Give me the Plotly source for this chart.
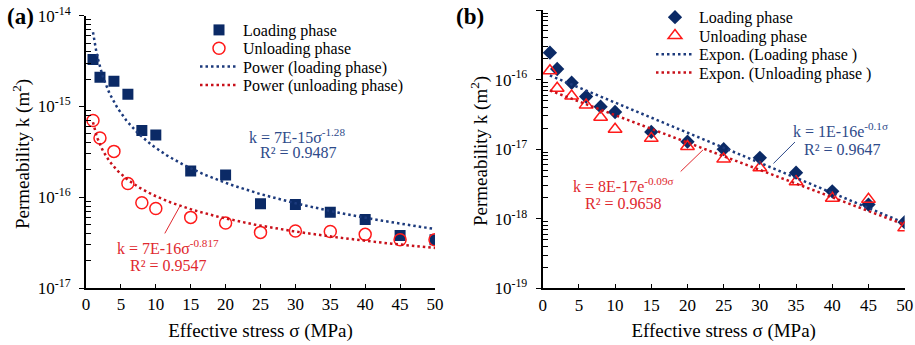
import numpy as np
import plotly.graph_objects as go

# ---------------- data ----------------
stress = [1, 2, 4, 6, 8, 10, 15, 20, 25, 30, 35, 40, 45, 50]

# panel (a)
a_loading = [3.3e-15, 2.1e-15, 1.9e-15, 1.36e-15, 5.45e-16, 4.85e-16, 1.95e-16,
             1.76e-16, 8.5e-17, 8.3e-17, 6.85e-17, 5.7e-17, 3.8e-17, 3.4e-17]
a_unloading = [7.0e-16, 4.5e-16, 3.2e-16, 1.42e-16, 8.7e-17, 7.5e-17, 6.0e-17,
               5.2e-17, 4.1e-17, 4.25e-17, 4.2e-17, 3.9e-17, 3.4e-17, 3.4e-17]

# panel (b)
b_loading = [2.44e-16, 1.42e-16, 9.0e-17, 5.7e-17, 4.08e-17, 3.42e-17, 1.77e-17,
             1.28e-17, 1.0e-17, 7.5e-18, 4.6e-18, 2.48e-18, 1.6e-18, 8.9e-19]
b_unloading = [1.34e-16, 7.5e-17, 5.8e-17, 4.3e-17, 2.87e-17, 1.93e-17, 1.43e-17,
               1.09e-17, 7.2e-18, 5.4e-18, 3.4e-18, 1.97e-18, 1.9e-18, 7.4e-19]

x_ticks = [0, 5, 10, 15, 20, 25, 30, 35, 40, 45, 50]
a_major = [1e-17, 1e-16, 1e-15, 1e-14]
a_major_text = ["10<sup>-17</sup>", "10<sup>-16</sup>", "10<sup>-15</sup>", "10<sup>-14</sup>"]
b_major = [1e-19, 1e-18, 1e-17, 1e-16, 1e-15]
b_major_text = ["10<sup>-19</sup>", "10<sup>-18</sup>", "10<sup>-17</sup>",
                "10<sup>-16</sup>", "10<sup>-15</sup>"]

a_names = ["Loading phase", "Unloading phase", "Power (loading phase)",
           "Power (unloading phase)"]
b_names = ["Loading phase", "Unloading phase", "Expon. (Loading phase )",
           "Expon. (Unloading phase )"]

x_title = "Effective stress σ (MPa)"
y_title = "Permeability k (m<sup>2</sup>)"

eq_a_load = ["k = 7E-15σ<sup>-1.28</sup>", "R² = 0.9487"]
eq_a_unload = ["k = 7E-16σ<sup>-0.817</sup>", "R² = 0.9547"]
eq_b_load = ["k = 1E-16e<sup>-0.1σ</sup>", "R² = 0.9647"]
eq_b_unload = ["k = 8E-17e<sup>-0.09σ</sup>", "R² = 0.9658"]

# ---------------- styles ----------------
NAVY = "#0b2a66"
BLUE_LINE = "#1c3a7c"
RED = "#ff1a1a"
RED_LINE = "#c8101a"
BLUE_TXT = "#2e4a8a"
RED_TXT = "#e0282e"
FONT = "Liberation Serif, Times New Roman, DejaVu Serif, serif"
DOT = "2.5px,3px"

xs = np.array(stress, dtype=float)
xfine = np.linspace(1, 50, 300)


def power_fit(y):
    b, a = np.polyfit(np.log(xs), np.log(np.array(y)), 1)
    return np.exp(a) * xfine ** b


def expon_fit(y):
    b, a = np.polyfit(xs, np.log(np.array(y)), 1)
    return np.exp(a) * np.exp(b * xfine)


def minor_vals(lo, hi):
    out = []
    for e in range(lo, hi):
        for m in range(2, 10):
            out.append(m * 10.0 ** e)
    return out


fig = go.Figure()

# panel (a)
fig.add_trace(go.Scatter(x=stress, y=a_loading, mode="markers", name=a_names[0],
                         marker=dict(symbol="square", size=11, color=NAVY),
                         xaxis="x", yaxis="y", legend="legend"))
fig.add_trace(go.Scatter(x=stress, y=a_unloading, mode="markers", name=a_names[1],
                         marker=dict(symbol="circle-open", size=12, color=RED,
                                     line=dict(width=1.5, color=RED)),
                         xaxis="x", yaxis="y", legend="legend2"))
fig.add_trace(go.Scatter(x=xfine, y=power_fit(a_loading), mode="lines",
                         name=a_names[2],
                         line=dict(color=BLUE_LINE, width=2.5, dash=DOT),
                         xaxis="x", yaxis="y", legend="legend3"))
fig.add_trace(go.Scatter(x=xfine, y=power_fit(a_unloading), mode="lines",
                         name=a_names[3],
                         line=dict(color=RED_LINE, width=2.5, dash=DOT),
                         xaxis="x", yaxis="y", legend="legend4"))

# panel (b)
fig.add_trace(go.Scatter(x=stress, y=b_loading, mode="markers", name=b_names[0],
                         marker=dict(symbol="diamond", size=11, color=NAVY),
                         xaxis="x2", yaxis="y2", legend="legend5"))
fig.add_trace(go.Scatter(x=stress, y=b_unloading, mode="markers", name=b_names[1],
                         marker=dict(symbol="triangle-up-open", size=12, color=RED,
                                     line=dict(width=1.5, color=RED)),
                         xaxis="x2", yaxis="y2", legend="legend6"))
fig.add_trace(go.Scatter(x=xfine, y=expon_fit(b_loading), mode="lines",
                         name=b_names[2],
                         line=dict(color=BLUE_LINE, width=2.5, dash=DOT),
                         xaxis="x2", yaxis="y2", legend="legend7"))
fig.add_trace(go.Scatter(x=xfine, y=expon_fit(b_unloading), mode="lines",
                         name=b_names[3],
                         line=dict(color=RED_LINE, width=2.5, dash=DOT),
                         xaxis="x2", yaxis="y2", legend="legend8"))

xaxis_common = dict(range=[0, 50], tickvals=x_ticks, ticks="inside", ticklen=4,
                    tickwidth=1.3, tickcolor="black", showline=True, linecolor="black",
                    linewidth=2, showgrid=False, zeroline=False, automargin=False,
                    tickfont=dict(family=FONT, size=17, color="black"),
                    title=dict(text=x_title,
                               font=dict(family=FONT, size=19, color="black"),
                               standoff=10))
yaxis_common = dict(type="log", ticks="outside", ticklen=5, tickwidth=1.3,
                    tickcolor="black", showline=True, linecolor="black", linewidth=2,
                    showgrid=False, zeroline=False, automargin=False,
                    ticklabelstandoff=5,
                    tickfont=dict(family=FONT, size=17, color="black"))

layout = dict(
    width=915, height=345,
    margin=dict(l=0, r=0, t=0, b=0),
    paper_bgcolor="white", plot_bgcolor="white",
    font=dict(family=FONT, color="black"),
    xaxis=dict(xaxis_common, domain=[0.094, 0.4754], anchor="y"),
    yaxis=dict(yaxis_common, domain=[0.1652, 0.9545], anchor="x",
               range=[-17, -14], tickvals=a_major, ticktext=a_major_text,
               minor=dict(tickvals=minor_vals(-17, -14), ticks="inside", ticklen=5,
                          tickwidth=1.2, tickcolor="black", showgrid=False)),
    xaxis2=dict(xaxis_common, domain=[0.5931, 0.9887], anchor="y2"),
    yaxis2=dict(yaxis_common, domain=[0.1643, 0.971], anchor="x2",
                range=[-19, -15], tickvals=b_major, ticktext=b_major_text,
                minor=dict(tickvals=minor_vals(-19, -15), ticks="inside", ticklen=5,
                           tickwidth=1.2, tickcolor="black", showgrid=False)),
    showlegend=True,
)

# one legend per entry so the rows sit where the reference puts them
leg_rows_a = [30, 48.3, 66.7, 85]
leg_rows_b = [17.3, 35.7, 54.3, 72.7]
for i, py in enumerate(leg_rows_a + leg_rows_b):
    key = "legend" if i == 0 else f"legend{i + 1}"
    lx = 195 if i < 4 else 651
    layout[key] = dict(x=lx / 915, y=1 - py / 345, xanchor="left", yanchor="middle",
                       bgcolor="rgba(0,0,0,0)", borderwidth=0,
                       font=dict(family=FONT, size=16, color="black"),
                       itemwidth=38)
fig.update_layout(**layout)

ann = []
def txt(text, x, y, xr, yr, color, size=16):
    ann.append(dict(text=text, x=x, y=y, xref=xr, yref=yr, showarrow=False,
                    font=dict(family=FONT, size=size, color=color),
                    xanchor="center", yanchor="middle"))

def leader(x0, y0, x1, y1, xr, yr, color):
    ann.append(dict(text="", x=x1, y=y1, ax=x0, ay=y0, xref=xr, yref=yr,
                    axref=xr, ayref=yr, showarrow=True, arrowhead=0,
                    arrowwidth=1, arrowcolor=color))

txt(eq_a_load[0], 30.3, -15.325, "x", "y", BLUE_TXT)
txt(eq_a_load[1], 30.4, -15.512, "x", "y", BLUE_TXT)
txt(eq_a_unload[0], 11.75, -16.543, "x", "y", RED_TXT)
txt(eq_a_unload[1], 11.75, -16.757, "x", "y", RED_TXT)
leader(11.17, -16.415, 13.47, -16.096, "x", "y", RED_TXT)

txt(eq_b_load[0], 41.2, -16.724, "x2", "y2", BLUE_TXT)
txt(eq_b_load[1], 41.47, -17.011, "x2", "y2", BLUE_TXT)
txt(eq_b_unload[0], 11.23, -17.514, "x2", "y2", RED_TXT)
txt(eq_b_unload[1], 11.23, -17.787, "x2", "y2", RED_TXT)
leader(31.67, -17.227, 34.85, -16.897, "x2", "y2", BLUE_TXT)
leader(18.85, -17.342, 22.14, -17.011, "x2", "y2", RED_TXT)

# y-axis titles placed as rotated text
for cx, cy in [(22, 154), (479, 151)]:
    ann.append(dict(text=y_title, x=cx / 915, y=1 - cy / 345, xref="paper", yref="paper",
                    showarrow=False, textangle=-90,
                    font=dict(family=FONT, size=19, color="black"),
                    xanchor="center", yanchor="middle"))

ann.append(dict(text="<b>(a)</b>", x=20 / 915, y=1 - 17 / 345, xref="paper", yref="paper",
                showarrow=False, font=dict(family=FONT, size=23, color="black"),
                xanchor="center", yanchor="middle"))
ann.append(dict(text="<b>(b)</b>", x=470 / 915, y=1 - 17 / 345, xref="paper", yref="paper",
                showarrow=False, font=dict(family=FONT, size=23, color="black"),
                xanchor="center", yanchor="middle"))
fig.update_layout(annotations=ann)

fig.write_html("out.html", config={"displayModeBar": False},
               post_script="document.body.style.margin='0px';")
